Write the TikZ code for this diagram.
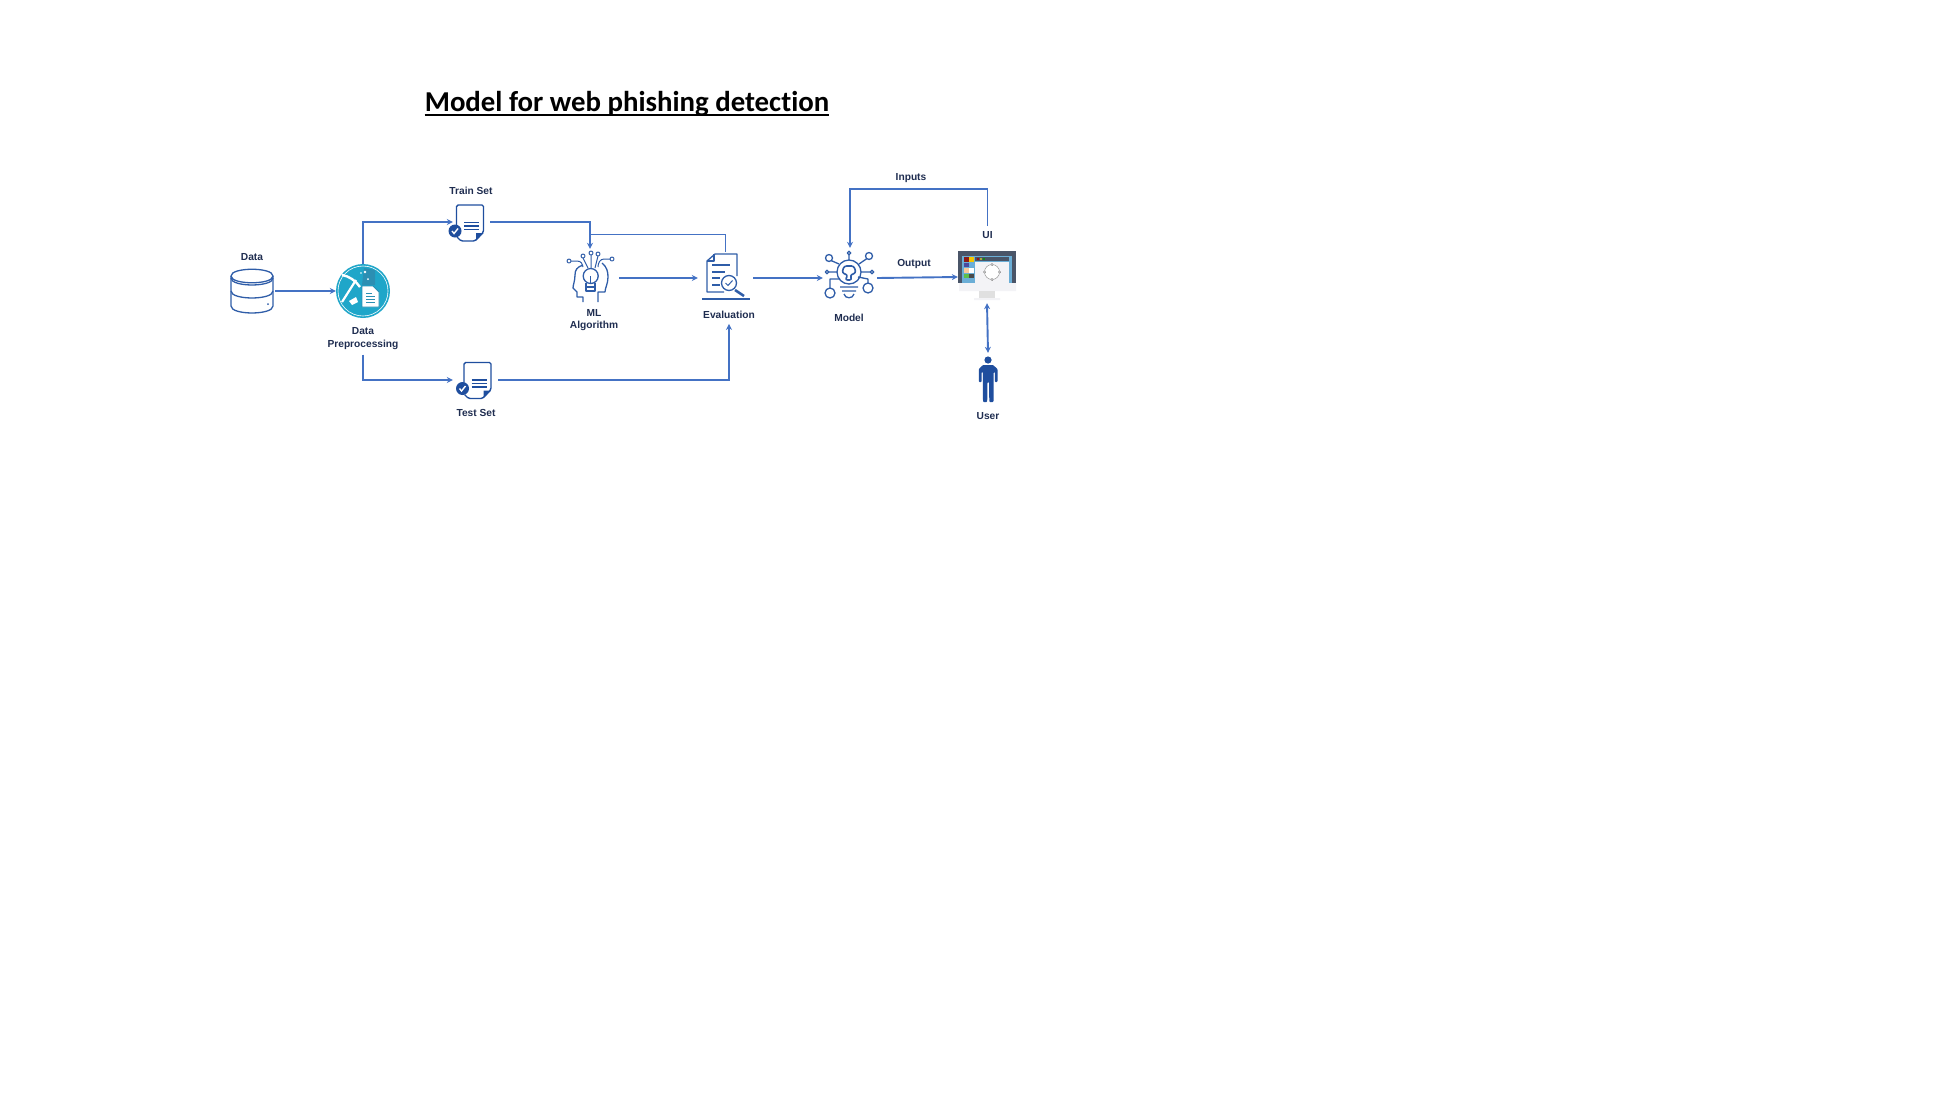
\documentclass[tikz,border=0pt]{standalone}
\usepackage{fontspec}
\setmainfont{Liberation Sans}
\newfontfamily\titlefont[Ligatures=NoCommon]{Carlito}
\usetikzlibrary{arrows.meta}
\definecolor{flowblue}{HTML}{4472C4}
\definecolor{iconblue}{HTML}{2F5DA8}
\definecolor{darkblue}{HTML}{1F4E9E}
\definecolor{labelblue}{HTML}{1F2D50}
\definecolor{prepteal}{HTML}{1FA6C9}
\definecolor{prepdark}{HTML}{2B8FB3}
\definecolor{framegray}{HTML}{4A5568}
\definecolor{screenblue}{HTML}{6BAED6}
\definecolor{bezel}{HTML}{F3F3F6}
\tikzset{
  flow/.style={draw=flowblue,line width=1.9pt,-{Stealth[length=6pt,width=6pt]}},
  thinflow/.style={draw=flowblue,line width=1pt},
  iconline/.style={draw=iconblue,line width=1.3pt,line join=round},
  iconbox/.style={inner sep=0pt},
  lbl/.style={font=\bfseries\fontsize{10.2}{12.6}\selectfont,text=labelblue,align=center,inner sep=5pt},
  docicon/.pic={
    \draw[draw=darkblue,line width=1.4pt,line join=round,rounded corners=1.5pt] (0.5,20) -- (0.5,0) -- (27.5,0) -- (27.5,27) -- (19,36) -- (5,36) -- (1,32);
    \fill[darkblue] (27.5,28) -- (20,28) -- (20,35.5) -- cycle;
    \draw[darkblue,line width=1.1pt] (8,17.5) -- (23,17.5) (8,21) -- (23,21) (8,24.5) -- (23,24.5);
    \fill[darkblue] (-1,26) circle (6.5);
    \draw[white,line width=1.4pt] (-4,26) -- (-2,28.5) -- (2,23.5);
  }
}
\begin{document}
\begin{tikzpicture}[x=1pt,y=-1pt]
\useasboundingbox (0,0) rectangle (1958,1106);
\node[font=\titlefont\bfseries\fontsize{28.8}{32}\selectfont,inner sep=0pt] (title) at (627,104) {Model for web phishing detection};
\draw[line width=1.5pt] ([yshift=-3.4pt]title.base west) -- ([yshift=-3.4pt]title.base east);

\node[iconbox,minimum width=46pt,minimum height=44pt] (data) at (252,291) {};
\draw[iconline] (231,276) .. controls (231,267) and (273,267) .. (273,276) .. controls (273,285) and (231,285) .. (231,276);
\draw[iconline] (231,276) -- (231,306) .. controls (231,315.3) and (273,315.3) .. (273,306) -- (273,276);
\draw[iconline] (231,278) .. controls (231,287.3) and (273,287.3) .. (273,278);
\draw[iconline] (231,291) .. controls (231,300.3) and (273,300.3) .. (273,291);
\fill[iconblue] (268,304) circle (1);

\node[circle,fill=prepteal,minimum size=54pt,inner sep=0pt] (prep) at (363,291) {};
\draw[white,line width=.6pt] (363,291) circle (25);
\fill[prepdark] (364,268) -- (375,270) -- (375,285) -- (362,285) -- cycle;
\fill[white] (365,272) circle (1.3) (361,273) circle (.8) (368,279) circle (1);
\draw[white,line width=2.4pt] (342,275) .. controls (349,276) and (356,281) .. (360,287);
\draw[white,line width=2.2pt] (356,280) -- (342,302);
\fill[white] (349,301) -- (356,297) -- (358,302) -- (352,305) -- cycle;
\draw[prepdark,fill=white,line width=.9pt] (362,286) -- (373,286) -- (379,292) -- (379,307) -- (362,307) -- cycle;
\draw[prepdark,line width=.8pt] (366,293) -- (372,293) (366,296) -- (375,296) (366,299) -- (375,299) (366,302) -- (375,302);

\node[iconbox,minimum width=37pt,minimum height=40pt] (train) at (471.5,222) {};
\pic at (456,205) {docicon};
\node[iconbox,minimum width=45pt,minimum height=40pt] (test) at (475.5,380) {};
\pic at (463.5,362.5) {docicon};

\node[iconbox,minimum width=58pt,minimum height=58pt] (ml) at (590,278) {};
\draw[iconline] (583,265) .. controls (577,267) and (575,270) .. (575,275) .. controls (575,281) and (573,285) .. (573,288) -- (577,292) -- (577,297) -- (583,297) -- (583,302);
\draw[iconline] (602,263) .. controls (607,267) and (608,272) .. (608,277) .. controls (608,284) and (605,288) .. (605,292) -- (598,292) -- (598,302);
\draw[iconline] (590.7,276) circle (7.5);
\draw[iconline] (586,283) -- (586,291) -- (595,291) -- (595,283) (586,287) -- (595,287) (590.7,276) -- (590.7,283);
\draw[iconline,line width=1pt] (571,261) -- (577,261) .. controls (581,261) and (583,264) .. (583,267);
\draw[iconline,line width=1pt] (583,258) -- (588,268) (591,255) -- (591,268) (598,256) -- (595,268);
\draw[iconline,line width=1pt] (610,259) -- (604,259) .. controls (600,259) and (598,263) .. (598,267);
\draw[iconline,line width=1pt] (569,261) circle (2) (583,256) circle (2) (591,253) circle (2) (598,254) circle (2) (612,259) circle (2);

\node[iconbox,minimum width=55pt,minimum height=52pt] (eval) at (725.5,278) {};
\draw[iconline] (724,292) -- (707,292) -- (707,261) -- (715,254) -- (737,254) -- (737,276);
\draw[iconline] (707,261) -- (714,261) -- (714,254);
\draw[iconline] (712,265) -- (730,265) (712,272) -- (725,272) (712,278) -- (720,278) (712,285) -- (720,285);
\draw[iconline,fill=white] (729,283) circle (7.5);
\draw[iconline,line width=1pt] (725.5,283) -- (728,285.5) -- (732.5,280.5);
\draw[iconline,line width=2.6pt] (735,290) -- (744,296);
\draw[iconline,line width=2pt] (702,298.5) -- (750,298.5);

\node[iconbox,minimum width=54pt,minimum height=60pt] (model) at (850,278) {};
\draw[iconline] (849,272) circle (12);
\draw[iconline] (840,287) -- (858,287) (842,291) -- (856,291) (844,294) .. controls (845,299) and (853,299) .. (854,294);
\draw[iconline,line width=1.6pt,rounded corners=2.5pt] (845,280) -- (848,275) -- (842,273) -- (844,266) -- (854,266) -- (856,273) -- (850,275) -- (852,280) -- cycle;
\draw[iconline] (831,260.5) -- (839,264) (867,258.5) -- (859,264) (849,255) -- (849,260) (829,272) -- (837,272) (861,272) -- (870,272);
\draw[iconline] (830,288) -- (830,279) -- (840,279) (868,283) -- (868,279) -- (858,277);
\draw[iconline] (829,258) circle (3.5) (869,256) circle (3.5) (849,253) circle (1.8) (827,272) circle (1.8) (872,272) circle (1.8) (830,293) circle (5) (868,288) circle (5);

\node[iconbox,minimum width=58pt,minimum height=52pt] (ui) at (987,277) {};
\fill[bezel] (959,283) rectangle (1016,291) (974,298) rectangle (1000,300);
\fill[black!12] (979,291) rectangle (995,298);
\fill[framegray] (958,251) rectangle (1016,283);
\fill[screenblue] (962,256) rectangle (1012,283);
\fill[bezel] (975,262) rectangle (1009,283);
\fill[framegray] (975,257) rectangle (1009,261);
\fill[red!70!black] (978,259) circle (1.1);
\fill[yellow!80!black] (981,259) circle (1.1);
\fill[green!60!black] (984,259) circle (1.1);
\foreach \colx/\rowy/\colr in {964/257/8B1A1A,969/257/F5C400,964/262.5/4A4A9E,969/262.5/6AAEDC,964/268/F8C99B,969/268/FFFFFF,964/273.5/5CC04A,969/273.5/4A4A4A}{
  \definecolor{swatchcol}{HTML}{\colr}
  \fill[swatchcol] (\colx,\rowy) rectangle ++(4.5,4.5);
}
\draw[black!40,line width=.5pt,fill=white] (992,272) circle (7.5);
\foreach \px/\py in {992/264.5,992/279.5,984.5/272,999.5/272}
  \draw[black!50,fill=bezel,line width=.4pt] (\px,\py) circle (1.2);

\node[iconbox,minimum width=22pt,minimum height=54pt] (user) at (988,380) {};
\fill[darkblue] (988,360) circle (3.6);
\fill[darkblue,rounded corners=.8pt] (983,365) -- (993,365) -- (997.5,369) -- (997.5,382) -- (994.8,382) -- (994.8,372) -- (993.7,372) -- (993.5,402) -- (989.3,402) -- (989,382) -- (987.5,382) -- (987.2,402) -- (983,402) -- (982.8,372) -- (981.6,372) -- (981.6,382) -- (978.8,382) -- (978.8,369) -- cycle;

\node[lbl] (datalabel) at (252,257) {Data};
\node[lbl] (preplabel) at (363,338.5) {Data\\Preprocessing};
\node[lbl] (trainlabel) at (471,190.5) {Train Set};
\node[lbl] (testlabel) at (476,412.5) {Test Set};
\node[lbl] (mllabel) at (594,320) {ML\\Algorithm};
\node[lbl] (evallabel) at (729,315) {Evaluation};
\node[lbl] (modellabel) at (849,317.5) {Model};
\node[lbl] (outputlabel) at (914,264) {Output};
\node[lbl] (inputslabel) at (911,178) {Inputs};
\node[lbl] (uilabel) at (987.5,235) {UI};
\node[lbl] (userlabel) at (988,416) {User};

\coordinate (evaljoin) at (590,234);
\coordinate (inputsbend) at (850,189);
\draw[flow] (data.east) -- (prep.west);
\draw[flow] (prep.north) |- (train.west);
\draw[flow] (train.east) -| (ml.north);
\draw[thinflow] (eval.north) |- (evaljoin);
\draw[flow] (preplabel.south) |- (test.west);
\draw[flow] (test.east) -| (evallabel.south);
\draw[flow] (ml.east) -- (eval.west);
\draw[flow] (eval.east) -- (model.west);
\draw[flow] (model.east) -- (ui.west);
\draw[flow] (uilabel.north) |- (inputsbend) -- (model.north);
\draw[flow,{Stealth[length=6pt,width=6pt]}-{Stealth[length=6pt,width=6pt]}] (ui.south) -- (user.north);
\end{tikzpicture}
\end{document}
